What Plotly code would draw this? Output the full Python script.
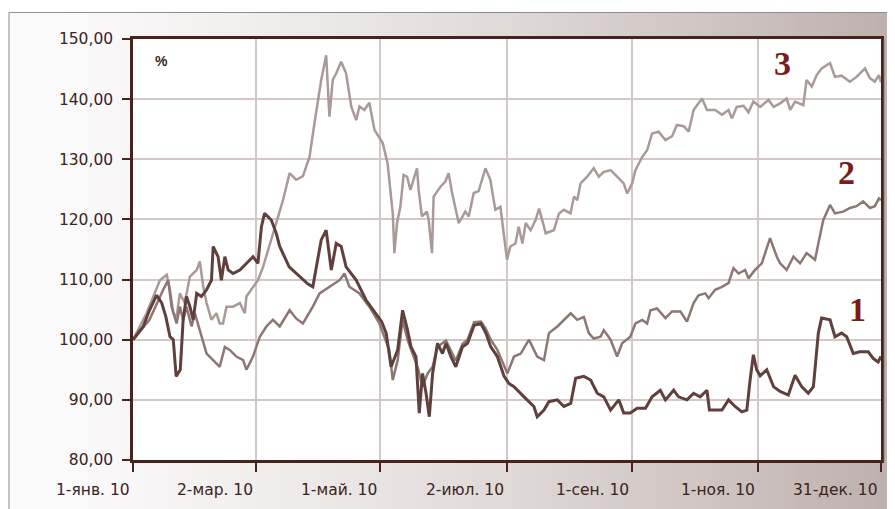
import pandas as pd
import plotly.graph_objects as go

# ---------------- data (day offsets from 1 Jan 2010, index values in %) -------------
days1 = [0, 5, 8, 11.5, 14, 16, 18, 19.6, 21, 23, 24.4, 26, 27.7, 29.3, 31, 33.3, 35.8, 38.2, 39,
         41.4, 43, 44.7, 46.3, 48.7, 52, 55.2, 58.4, 60.8, 62.5, 64, 67.3, 69.7, 71.4, 76, 79.5,
         82.7, 85, 87.5, 91.6, 94, 96.5, 98.9, 101.3, 103.7, 108.6, 113.4, 118.3, 121, 123.2,
         125.6, 128.8, 131.2, 133.6, 135.3, 137.7, 139.3, 140.9, 142.6, 144.2, 145.8, 148.2,
         150.6, 152.3, 154.7, 157.1, 160.3, 162.8, 166, 169.3, 171.7, 174.1, 177.3, 180.6, 183,
         185.4, 187, 190.3, 195.1, 196.7, 200, 202.4, 206.5, 209.7, 213, 215.4, 219.4, 222.7,
         225.9, 229.1, 232.4, 236.4, 238.8, 242, 245.3, 249.4, 252.6, 256.6, 259.1, 263.1,
         265.5, 269.6, 272.8, 276, 279.3, 280.5, 283.3, 286.6, 289.8, 293, 296.3, 298.7, 300.3,
         301.9, 303.5, 305.2, 308.4, 311.7, 314.9, 318.9, 322.2, 325.4, 328.6, 331.1, 333.5,
         335.1, 339.2, 341.6, 344.8, 347.3, 350.5, 353.7, 357.8, 360.2, 362.6, 364]
vals1 = [100, 102.2, 104.9, 107.4, 106.1, 103.8, 100.5, 100, 93.9, 95, 103.3, 107.2, 105.5, 103.3,
         107.7, 107.2, 108.3, 109.9, 115.5, 113.8, 109.9, 113.8, 111.6, 111, 111.6, 112.7, 113.8,
         112.7, 118.8, 121, 119.9, 117.7, 115.5, 112.1, 111, 109.9, 109.3, 108.8, 116.6, 118.2,
         111.6, 116, 115.5, 112.1, 109.9, 106.6, 104.4, 103, 101.1, 95.5, 98.3, 104.9, 101.6,
         98.8, 97.2, 87.8, 94.4, 91.1, 87.2, 94.4, 99.4, 97.7, 99.4, 97.2, 95.5, 98.8, 99.4,
         102.4, 102.7, 101.1, 98.8, 97.2, 93.9, 92.7, 92.2, 91.6, 90.5, 88.9, 87.2, 88.3, 89.7,
         90, 88.9, 89.4, 93.6, 93.9, 93.3, 91.1, 90.5, 88.3, 90, 87.8, 87.8, 88.6, 88.6, 90.5,
         91.6, 90, 91.6, 90.5, 90, 91.1, 90.5, 91.6, 88.3, 88.3, 88.3, 90, 88.9, 88, 88.3, 93.3,
         97.5, 95, 94, 95, 92.2, 91.4, 90.8, 94.1, 92.2, 91.1, 92.2, 101.1, 103.6, 103.3, 100.5,
         101.1, 100.5, 97.7, 98, 98, 96.9, 96.3, 97.2]

days2 = [0, 8, 14.7, 17.1, 18.8, 21.2, 22.8, 24.4, 26, 28.5, 30.1, 32.5, 35.8, 39, 42.2, 44.7,
         47.1, 50.3, 53.6, 55.2, 58.4, 61.7, 64.9, 68.1, 71.4, 76.2, 79.5, 82.7, 87.5, 90.8,
         95.6, 100.5, 102.9, 105.3, 110.2, 115, 119.9, 124.7, 126.4, 128.8, 131.2, 133.6, 136,
         138.5, 140.9, 143.4, 145.8, 148.2, 152.3, 157.1, 160.3, 162.8, 166, 169.3, 171.7, 174.1,
         177.3, 180.6, 182.2, 185.4, 188.7, 192.7, 195.1, 196.7, 200, 202.4, 206.5, 209.7, 213,
         216.2, 219.4, 221.8, 224.2, 227.5, 229.1, 232.4, 235.6, 238, 242, 244.5, 247.8, 250.2,
         251.8, 255, 259.1, 262.3, 266.4, 269.6, 272.8, 275.2, 278.5, 280.1, 283.3, 286.6,
         289.8, 292.2, 294.7, 297.9, 299.5, 302.7, 306, 310, 313.3, 314.9, 318.1, 321.4, 324.6,
         327.8, 331.9, 333.5, 335.9, 339.2, 341.6, 345.6, 348.9, 352.1, 355.3, 358.6, 361, 363, 364]
vals2 = [100, 103.3, 108.3, 109.9, 105.5, 102.7, 105.5, 103.3, 105.5, 102.2, 104.4, 101.6, 97.7,
         96.6, 95.5, 98.8, 98.3, 97.2, 96.6, 95, 97.2, 100.5, 102.2, 103.3, 102.2, 104.9, 103.5,
         102.7, 105.5, 107.7, 108.8, 109.9, 111, 108.8, 107.7, 105.5, 102.7, 98.3, 93.3, 96.6,
         103.3, 100, 97.7, 95.5, 92.2, 94.4, 95.5, 98.8, 99.9, 96.5, 99.3, 100, 102.9, 103,
         101.8, 100, 98.3, 95.5, 94.4, 97.2, 97.7, 100, 98.3, 97.2, 96.6, 101.1, 102.2, 103.3,
         104.4, 103.3, 103.8, 101.1, 100.2, 100.5, 101.6, 100, 97.2, 99.4, 100.5, 102.7, 103.3,
         102.7, 104.9, 105.2, 103.6, 104.7, 104.7, 103, 106.1, 107.4, 107.7, 106.9, 108.3, 108.8,
         109.4, 111.9, 111, 111.6, 110.2, 111.6, 112.7, 116.9, 113.8, 112.7, 111.6, 113.8, 112.7,
         114.4, 113.3, 116, 119.9, 122.4, 121, 121.3, 121.9, 122.2, 123, 121.9, 122.2, 123.5, 123.2]

days3 = [0, 6.6, 13.1, 16.4, 18, 19.6, 21.2, 22.8, 25.2, 27.7, 31, 32.5, 34.2, 35.8, 38.2, 40.6,
         42.2, 43.8, 45.5, 48.7, 52, 54.4, 55.2, 58.4, 60.8, 63.3, 68.1, 73, 76.2, 79.4, 82.7,
         85.9, 88.3, 91.6, 94, 95.6, 97.2, 98.9, 101.3, 103.7, 106.2, 108.6, 110.2, 112.6, 115,
         117.5, 121.5, 123.9, 126.4, 127.2, 128.5, 130.1, 131.7, 133.4, 135, 138.2, 139, 140.6,
         143, 143.9, 145.5, 146.3, 149.5, 152, 153.6, 155.3, 158.5, 161.7, 163.4, 165.8, 168.2,
         171.5, 173.9, 176.3, 178.8, 180.4, 182, 183.6, 186.1, 187.7, 189.5, 191.1, 193.5, 195.9,
         197.6, 200, 200.8, 204.8, 207.3, 209.7, 212.9, 214.6, 216.2, 217.8, 221, 224.2, 226.7,
         229.1, 232.4, 235.6, 238.8, 240.5, 242.9, 244.5, 247.8, 250.2, 252.6, 255.8, 259.1,
         262.3, 264.7, 268, 270.4, 272.8, 276.9, 279.3, 283.3, 286.6, 289.8, 291.4, 293.8, 297.1,
         299.5, 301.9, 305.2, 309.3, 311.7, 314.9, 318.1, 319.8, 322.2, 326.2, 327.8, 330.3,
         332.7, 335.1, 339.2, 341.6, 344.8, 348.9, 352.1, 356.2, 358.6, 361, 363, 364]
vals3 = [100, 104.4, 109.9, 110.8, 108.3, 104.4, 103.8, 107.7, 106.1, 110.5, 111.6, 113, 108.8,
         106.1, 103.3, 104.4, 102.7, 102.7, 105.5, 105.5, 106.1, 104.4, 107.2, 108.8, 109.9,
         112.1, 117.7, 123.2, 127.7, 126.6, 127.2, 130.4, 136, 143.2, 147.3, 137.1, 143.2, 144.3,
         146.2, 144.3, 138.8, 136.5, 138.8, 138.2, 139.4, 134.9, 132.7, 129.3, 121, 114.4, 119.4,
         122.1, 127.4, 127.1, 124.9, 128.5, 124.9, 120.5, 121.3, 119.9, 114.4, 123.8, 125.4,
         126.3, 127.7, 124.4, 119.4, 121.3, 120.5, 124.4, 124.7, 128.5, 126.6, 121.6, 122.1,
         117.7, 113.3, 115.5, 116, 118.8, 116, 119.4, 118.2, 119.9, 121.8, 118.8, 117.7, 118.2,
         121, 121.6, 121, 123.8, 123.2, 126, 127.1, 128.5, 127.1, 127.9, 128.2, 127.1, 126, 124.3,
         126, 128.2, 130.4, 131.5, 134.3, 134.6, 133.2, 133.8, 135.7, 135.5, 134.6, 138.2, 140.1,
         138.2, 138.2, 137.4, 138.2, 136.8, 138.7, 138.9, 137.8, 139.6, 138.7, 139.9, 138.7,
         139.3, 140.1, 138.2, 139.6, 139, 143.2, 142.1, 144, 145.1, 146, 143.7, 143.9, 142.9,
         143.7, 145.1, 143.5, 142.9, 144, 142.8]

series_names = ["1", "2", "3"]
x_tick_dates = ["2010-01-01", "2010-03-02", "2010-05-01", "2010-07-02",
                "2010-09-01", "2010-11-01", "2010-12-31"]
x_tick_text = ["1-янв. 10", "2-мар. 10", "1-май. 10", "2-июл. 10",
               "1-сен. 10", "1-ноя. 10", "31-дек. 10"]
y_tick_vals = [80, 90, 100, 110, 120, 130, 140, 150]
y_tick_text = ["80,00", "90,00", "100,00", "110,00", "120,00", "130,00", "140,00", "150,00"]

base = pd.Timestamp("2010-01-01")


def to_dates(days):
    return [base + pd.Timedelta(days=d) for d in days]


# ---------------- figure -------------------------------------------------------------
# The page body has an 8px margin, so the figure is offset by (8, 8) in the window.
OFF = 8
W, H = 887, 501
L, R, T, B = 125, 11, 31, 49
PW, PH = W - L - R, H - T - B


def xp(px):  # window pixel -> paper x
    return (px - OFF - L) / PW


def yp(py):  # window pixel -> paper y
    return (H - B - (py - OFF)) / PH


fig = go.Figure()
line_styles = {
    "3": dict(color="#a99a97", width=2.5),
    "2": dict(color="#8c7773", width=2.5),
    "1": dict(color="#5f403c", width=3),
}
for name, d, v in [("3", days3, vals3), ("2", days2, vals2), ("1", days1, vals1)]:
    fig.add_trace(go.Scatter(x=to_dates(d), y=v, mode="lines", name=name,
                             line=line_styles[name], showlegend=False))

# background gradient of the frame
shapes = []
N = 90
x_left, x_right = 8, 897
for i in range(N):
    a = x_left + (x_right - x_left) * i / N
    b = x_left + (x_right - x_left) * (i + 1) / N + 0.6
    t = ((a + b) / 2 - x_left) / (x_right - x_left)
    f = t ** 1.35
    r = round(252 - f * (252 - 189))
    g = round(251 - f * (251 - 176))
    bl = round(251 - f * (251 - 173))
    shapes.append(dict(type="rect", xref="paper", yref="paper", layer="below",
                       x0=xp(a), x1=xp(b), y0=yp(515), y1=yp(12),
                       fillcolor=f"rgb({r},{g},{bl})", line=dict(width=0)))
shapes.append(dict(type="rect", xref="paper", yref="paper", layer="below",
                   x0=0, x1=1, y0=0, y1=1, fillcolor="white", line=dict(width=0)))
shapes.append(dict(type="rect", xref="paper", yref="paper", layer="above",
                   x0=xp(8.5), x1=xp(900), y0=yp(520), y1=yp(12.5),
                   fillcolor="rgba(0,0,0,0)", line=dict(color="#8d8d8d", width=1)))
shapes.append(dict(type="line", xref="paper", yref="paper", layer="above",
                   x0=xp(886.8), x1=xp(886.8), y0=yp(462), y1=yp(40),
                   line=dict(color="rgba(110,90,86,0.6)", width=1.5)))

axis_color = "#4a211b"
label_color = "#3a2420"
num_font = dict(family="Liberation Serif", size=34, color="#7a1c1a")

annotations = [
    dict(xref="paper", yref="paper", x=xp(162), y=yp(61), text="<b>%</b>",
         xanchor="center", yanchor="middle", showarrow=False,
         font=dict(family="Liberation Sans", size=14, color=label_color)),
    dict(xref="paper", yref="paper", x=xp(785), y=yp(64), text="<b>3</b>",
         xanchor="center", yanchor="middle", showarrow=False, font=num_font),
    dict(xref="paper", yref="paper", x=xp(849), y=yp(173), text="<b>2</b>",
         xanchor="center", yanchor="middle", showarrow=False, font=num_font),
    dict(xref="paper", yref="paper", x=xp(860), y=yp(310), text="<b>1</b>",
         xanchor="center", yanchor="middle", showarrow=False, font=num_font),
]
# x tick labels: right-aligned to their tick marks, as in the original
for d, txt in zip(x_tick_dates, x_tick_text):
    annotations.append(dict(xref="x", yref="paper", x=d, y=yp(490), text=txt,
                            xanchor="right", yanchor="middle", xshift=-1,
                            showarrow=False,
                            font=dict(family="DejaVu Sans", size=15.5, color=label_color)))

fig.update_layout(
    width=W, height=H,
    margin=dict(l=L, r=R, t=T, b=B, pad=0),
    paper_bgcolor="white",
    plot_bgcolor="white",
    shapes=shapes,
    xaxis=dict(
        type="date",
        range=["2010-01-01", "2010-12-31"],
        tickmode="array", tickvals=x_tick_dates, ticktext=x_tick_text,
        showticklabels=False,
        showgrid=True, gridcolor="#d3c8c6", gridwidth=1.6,
        showline=True, linecolor=axis_color, linewidth=2.5, mirror=True,
        ticks="outside", ticklen=9, tickwidth=2, tickcolor=axis_color,
        zeroline=False, fixedrange=True,
    ),
    yaxis=dict(
        range=[80, 150],
        tickmode="array", tickvals=y_tick_vals, ticktext=y_tick_text,
        showgrid=True, gridcolor="#d3c8c6", gridwidth=1.6,
        showline=True, linecolor=axis_color, linewidth=2.5, mirror=True,
        ticks="outside", ticklen=8, tickwidth=2, tickcolor=axis_color,
        ticklabelstandoff=6,
        tickfont=dict(family="DejaVu Sans", size=15.5, color=label_color),
        zeroline=False, fixedrange=True,
    ),
    annotations=annotations,
)

fig.write_html("out.html")
